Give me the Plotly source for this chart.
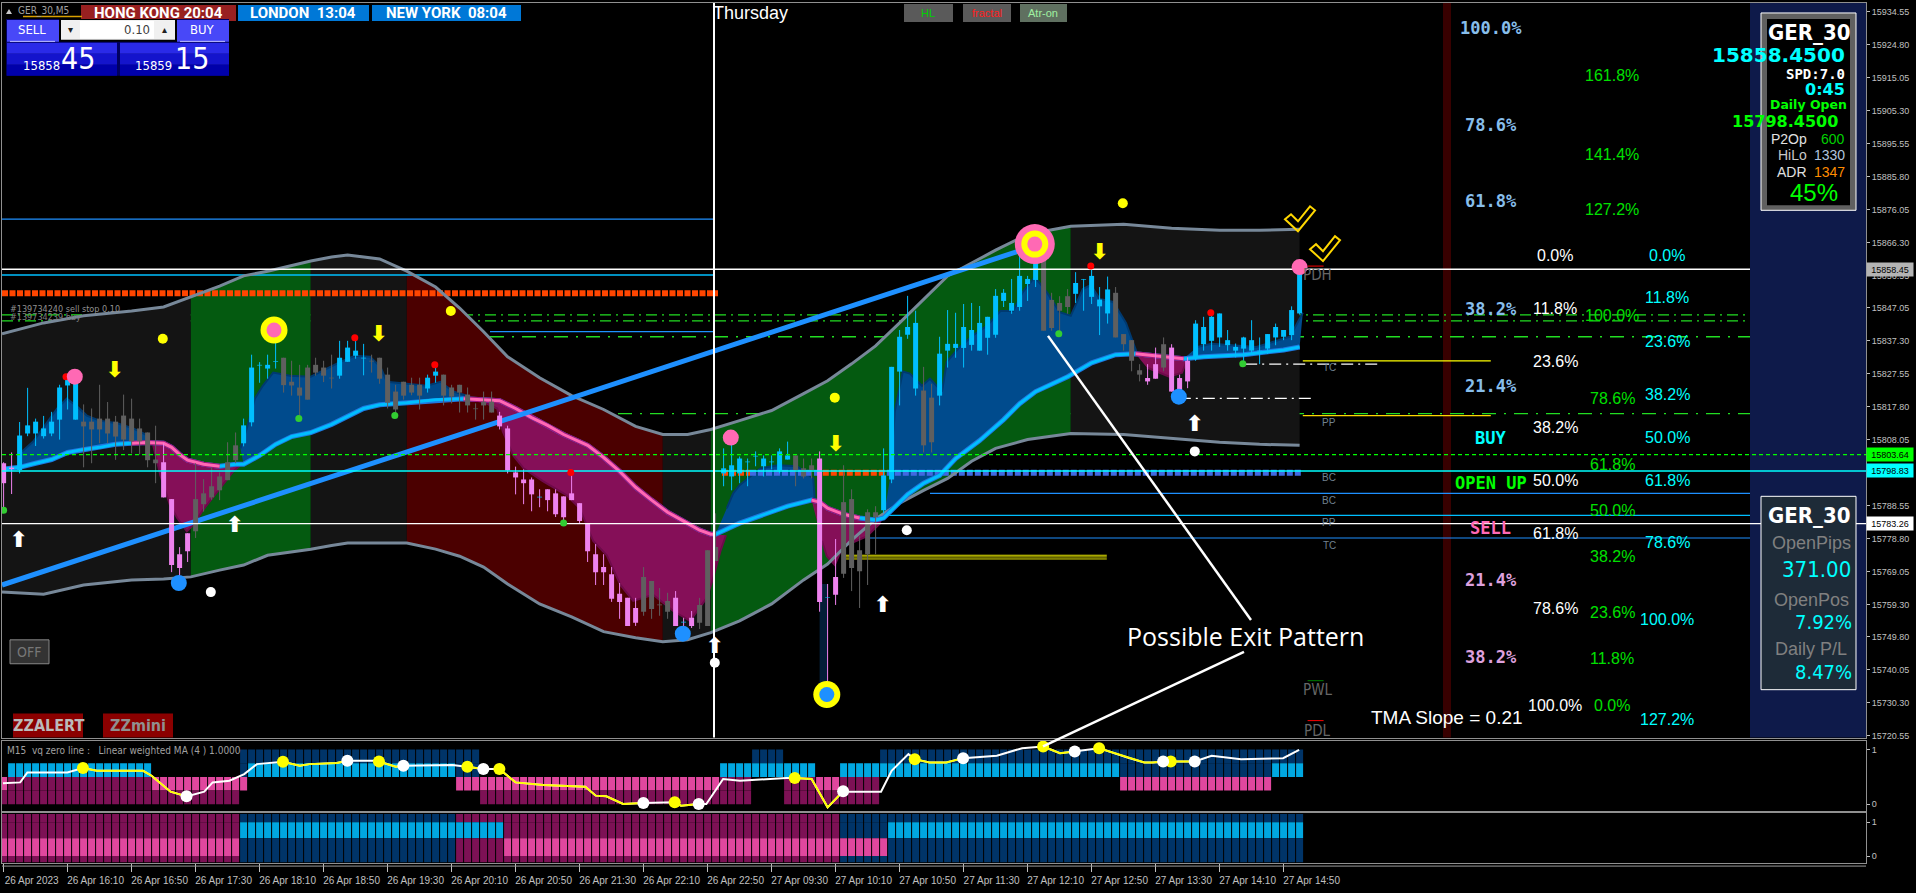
import plotly.graph_objects as go

W, H = 1916, 893

# ---------- DATA ----------
high = [15801.4,15804.3,15813.3,15823.4,15814.3,15815.1,15816.3,15824.3,15826.6,15826.3,
15818.5,15817.3,15824.3,15819.2,15815.1,15821.4,15820.2,15814.3,15810.2,15812.2,
15807.0,15790.5,15776.3,15780.4,15801.1,15796.4,15799.9,15798.4,15807.3,15810.2,
15814.3,15833.2,15831.0,15833.2,15840.4,15832.3,15831.4,15830.2,15830.2,15832.3,
15831.4,15833.2,15837.3,15837.3,15838.2,15836.4,15833.2,15832.3,15829.4,15824.3,
15825.2,15826.4,15826.4,15827.3,15830.2,15827.3,15824.3,15824.3,15823.5,15818.8,
15822.3,15822.3,15816.3,15812.2,15800.1,15799.3,15796.9,15793.4,15793.4,15793.4,
15791.3,15798.4,15789.3,15783.4,15777.2,15774.2,15770.4,15765.7,15761.3,15761.3,
15770.4,15766.3,15764.2,15762.8,15763.3,15755.4,15757.4,15761.3,15775.4,15786.3,
15805.5,15808.4,15803.1,15802.5,15804.6,15803.4,15803.4,15805.5,15807.5,15803.4,
15802.5,15802.5,15804.6,15765.4,15778.7,15800.5,15793.4,15779.5,15787.5,15788.4,
15805.5,15829.6,15840.5,15850.6,15846.2,15829.6,15824.6,15838.5,15846.4,15845.6,
15848.2,15848.5,15847.6,15844.4,15852.6,15852.6,15855.6,15862.7,15856.5,15865.6,
15864.4,15851.5,15850.5,15852.6,15857.6,15855.6,15859.4,15853.2,15856.3,15853.2,
15839.3,15837.5,15830.4,15830.4,15835.3,15838.3,15836.3,15827.3,15832.4,15843.4,
15844.4,15846.1,15845.4,15840.5,15836.5,15838.5,15843.4,15838.3,15839.3,15842.4,
15840.5,15847.5,15858.3]
body_top = [15801.1,15799.8,15809.3,15812.3,15813.4,15811.4,15813.4,15823.5,15826.3,15825.2,
15813.4,15813.4,15814.3,15814.3,15813.4,15815.2,15814.3,15811.4,15810.2,15802.2,
15801.4,15790.5,15774.2,15780.4,15790.5,15792.2,15794.3,15797.2,15801.4,15806.4,
15812.3,15829.4,15830.2,15830.2,15831.3,15832.3,15825.2,15823.5,15829.4,15830.2,
15829.4,15826.4,15832.3,15835.3,15834.4,15832.3,15831.4,15832.3,15827.3,15822.3,
15825.2,15824.3,15824.3,15826.4,15828.2,15827.3,15823.5,15824.3,15821.4,15817.3,
15819.3,15819.3,15815.2,15811.4,15798.4,15796.3,15796.3,15791.2,15793.4,15792.2,
15791.3,15792.2,15789.3,15783.1,15774.2,15770.4,15768.3,15762.5,15761.3,15758.3,
15767.5,15766.3,15759.3,15760.4,15761.3,15754.2,15755.4,15759.2,15775.4,15776.3,
15799.6,15800.5,15802.5,15801.6,15803.3,15802.5,15801.6,15804.6,15803.4,15803.4,
15799.6,15800.5,15802.5,15761.5,15767.5,15789.6,15790.5,15775.4,15786.6,15786.6,
15797.5,15829.6,15838.5,15841.4,15842.6,15822.6,15820.5,15833.5,15836.4,15836.4,
15841.4,15840.5,15842.6,15844.4,15850.6,15851.5,15848.5,15856.5,15855.6,15862.7,
15863.5,15849.4,15848.5,15850.5,15854.4,15855.5,15856.5,15849.5,15852.5,15851.5,
15839.3,15837.5,15828.6,15826.3,15830.4,15836.3,15835.3,15826.3,15831.4,15842.4,
15841.4,15844.4,15845.4,15837.5,15835.5,15838.3,15837.5,15834.4,15839.3,15841.4,
15840.5,15846.4,15858.3]
body_bot = [15795.2,15799.4,15799.1,15809.9,15809.9,15809.1,15809.9,15814.0,15824.1,15814.0,
15812.0,15811.1,15811.1,15809.9,15809.0,15808.1,15807.6,15807.6,15802.0,15801.1,
15791.0,15771.0,15770.1,15775.1,15781.0,15789.0,15791.0,15793.1,15796.1,15802.0,
15807.0,15813.2,15830.0,15829.1,15831.1,15824.2,15824.1,15821.1,15819.9,15827.9,
15827.0,15826.2,15827.0,15831.1,15832.9,15832.1,15831.2,15826.1,15819.0,15817.0,
15821.1,15822.0,15821.1,15823.2,15827.0,15821.1,15820.8,15822.0,15818.2,15817.1,
15818.2,15816.1,15812.0,15799.0,15796.9,15795.2,15791.9,15791.0,15790.2,15786.0,
15785.1,15790.2,15784.0,15775.1,15768.9,15768.9,15761.0,15760.1,15753.0,15753.9,
15757.2,15758.0,15759.1,15757.2,15753.0,15754.0,15753.0,15753.9,15753.0,15772.2,
15798.1,15797.2,15798.1,15801.4,15803.1,15800.2,15801.4,15799.0,15802.2,15799.0,
15797.2,15799.0,15760.1,15761.3,15762.2,15768.4,15770.1,15769.2,15774.2,15785.2,
15787.2,15796.3,15828.2,15839.1,15823.2,15806.4,15807.3,15821.1,15834.4,15835.2,
15835.2,15836.1,15834.4,15838.2,15839.1,15849.1,15846.2,15847.3,15854.1,15855.3,
15840.3,15841.1,15846.2,15847.3,15851.2,15855.3,15850.3,15847.5,15845.4,15838.3,
15836.3,15831.4,15827.3,15825.3,15826.1,15829.4,15822.3,15822.8,15825.3,15832.4,
15836.3,15837.3,15838.3,15836.0,15834.4,15835.0,15834.4,15834.2,15835.0,15838.3,
15838.5,15839.0,15845.4]
low = [15787.3,15792.0,15798.1,15809.1,15806.2,15808.4,15809.1,15808.1,15817.0,15814.0,
15799.9,15801.1,15807.0,15807.0,15802.1,15805.0,15804.0,15803.7,15799.9,15795.2,
15791.0,15768.9,15765.2,15771.9,15779.0,15786.8,15790.3,15790.2,15796.1,15801.1,
15806.1,15812.0,15824.9,15826.1,15829.1,15822.0,15821.1,15814.3,15819.9,15827.0,
15825.1,15823.2,15826.1,15831.1,15832.0,15827.1,15827.9,15824.6,15817.3,15815.3,
15819.9,15821.2,15817.0,15822.0,15824.9,15818.2,15818.8,15816.1,15816.1,15814.0,
15814.0,15816.1,15811.1,15798.1,15791.9,15789.0,15786.9,15788.1,15786.9,15785.2,
15783.7,15790.2,15783.4,15771.9,15765.1,15765.1,15760.1,15755.1,15753.0,15753.0,
15756.0,15755.1,15756.0,15755.1,15753.0,15750.1,15752.4,15752.1,15753.0,15772.2,
15794.3,15793.1,15795.2,15794.3,15800.2,15797.2,15799.3,15798.1,15802.2,15794.3,
15796.6,15796.6,15757.2,15732.8,15759.2,15767.2,15763.3,15758.3,15765.1,15774.2,
15786.3,15795.2,15818.2,15837.9,15821.1,15804.3,15804.3,15818.2,15829.4,15832.3,
15829.4,15834.4,15834.4,15833.2,15838.2,15847.3,15845.3,15846.2,15849.1,15853.2,
15840.3,15840.3,15839.4,15845.3,15848.5,15846.2,15848.2,15839.0,15842.4,15838.3,
15834.4,15828.3,15825.3,15824.3,15826.1,15828.3,15822.3,15820.2,15823.3,15831.4,
15834.4,15834.4,15835.5,15834.4,15832.4,15831.4,15833.4,15830.4,15833.4,15836.0,
15837.5,15837.5,15845.1]
candle_state = ("p"*2+"b"*8+"g"*10+"p"*4+"g"*6+"b"*5+"g"*7+"b"*4+"g"*7+"b"*2+"g"*7+"p"*5+"c"+"p"*12+"g"*4+"p"+"c"+"p"
                +"g"*3+"b"*9+"g"*3+"p"+"c"+"p"+"g"*5+"b"*5+"g"*2+"b"*13+"g"*4+"b"*5+"g"*4+"p"*2+"g"+"p"*3+"b"*14)

band_x = [-0.2,5,10,16,20,23.4,27,30,33,38.4,41,43,47,50.4,54,57,60,63,67,71,75,79,82.4,85.5,88.4,92,96,100,103,106,109,112,115,118,121,124,128,133.4,140,146,152,157,162]
band_upper = [15839.4,15842.6,15844.7,15846.1,15847.3,15850.3,15853.5,15856.5,15857.9,15860.9,15862.1,15862.7,15861.5,15857.9,15853.2,15847.0,15840.0,15832.6,15826.4,15821.1,15817.0,15812.0,15809.6,15809.6,15811.1,15813.7,15816.7,15821.7,15825.5,15830.5,15835.8,15842.6,15849.7,15856.5,15860.3,15864.1,15868.8,15871.2,15871.8,15870.6,15870.0,15870.0,15870.3]
band_lower = [15763.0,15762.4,15765.1,15766.6,15766.9,15767.5,15769.5,15771.0,15773.9,15775.7,15776.8,15777.5,15777.5,15777.5,15775.7,15773.6,15770.4,15765.4,15759.5,15755.7,15751.3,15749.5,15748.3,15748.9,15751.0,15754.5,15759.5,15766.6,15771.3,15778.4,15784.6,15789.3,15793.1,15796.6,15801.7,15805.5,15808.1,15809.9,15809.6,15808.4,15807.3,15806.7,15806.4]
band_breaks = [-0.2,23.4,38.4,50.4,82.4,88.4,133.4,162]
band_colors = ["#141414","#045A10","#141414","#4B0000","#141414","#045A10","#141414"]

ma_x = [-0.2,2,4,6,8,10,12,14,16,18,20,21,22,23,25,27,29,30,32,34,36,38.4,41,43,45,47,50.4,54,57.5,60,62,64,66,68,70,73,75,77,79,81,83,85,87,88.4,89,92,95,98,101,102,103,105,107,109,110,111,113,115,117,119,122,125,127,129,133,136,139,141.5,147.5,150,155,160,162]
ma_y = [15799.3,15799.9,15801.1,15802.2,15804.3,15805.2,15805.8,15806.7,15807.0,15807.2,15807.0,15805.8,15803.7,15802.0,15800.8,15800.2,15800.8,15800.8,15803.4,15806.7,15809.0,15810.2,15812.6,15814.9,15817.3,15818.4,15819.0,15819.9,15820.2,15819.9,15819.6,15817.3,15814.6,15812.3,15809.6,15806.4,15802.8,15798.7,15794.0,15790.2,15786.6,15784.0,15781.3,15780.1,15780.1,15783.4,15786.0,15788.4,15790.2,15789.6,15787.8,15786.0,15784.9,15784.3,15784.9,15787.2,15791.9,15795.2,15797.5,15802.5,15807.8,15814.0,15818.7,15822.3,15826.7,15830.8,15833.2,15833.5,15832.0,15832.6,15833.2,15834.6,15835.5]
ma_pink_spans = [(16,27),(57.5,89),(101,107),(141.5,147.5)]

zones = [
 ("#004B8D",2,18,[2.3,3.7,4.9,6.7,7.9,9.2,10.4,12,14.2,16.2,18],[15804.6,15807.5,15811.4,15817.3,15820.2,15817.9,15815.2,15813.7,15812.9,15811.4,15809.3]),
 ("#850F58",18,30,[18.7,19.6,20.8,21.7,22.9,23.7,24.9,26.7,28.7,29.6],[15806.4,15797.5,15788.7,15784.9,15781.0,15782.8,15787.2,15792.8,15798.7,15800.5]),
 ("#004B8D",30,57.5,[29.6,30.4,31.4,32.4,33.7,35.8,38.4,40.4,42.1,43.9,45.8,47.1,47.9,50.4,52.9,54.6,56.2,58.3],[15805.5,15811.4,15820.2,15824.0,15827.9,15827.0,15826.7,15829.1,15831.1,15832.9,15832.6,15829.6,15825.2,15824.6,15824.0,15825.2,15822.3,15820.8]),
 ("#850F58",57.5,89,[59.6,61.7,62.4,63.7,65,67.4,70.4,72,73.7,75.4,77.1,78.7,81.2,83.7,85.8,87.9,88.7,89.6,90.3],[15819.6,15817.3,15810.5,15803.4,15799.6,15795.8,15791.6,15787.8,15778.1,15773.9,15765.1,15760.4,15762.2,15757.4,15754.5,15761.3,15767.2,15775.1,15779.8]),
 ("#004B8D",89,101,[90.4,91.2,92,93.3,94.6,96.8,99.2,101.2,101.4],[15787.8,15792.2,15794.6,15797.2,15799.6,15800.5,15800.2,15796.6,15790.2]),
 ("#850F58",101,110,[102.3,102.9,103.9,104.8,105.4,107.9,109.6],[15778.1,15773.6,15771.0,15776.0,15776.9,15779.5,15783.4]),
 ("#004B8D",110,141.5,[110.8,111.4,112.4,113.3,114.8,115.8,117.3,117.9,119.3,121.1,122.9,124.6,126.2,127.4,128.9,130.4,132,133.4,134.9,135.9,137,138.7,140.3,141.3,141.6],[15796.6,15816.4,15828.2,15827.6,15824.0,15826.1,15822.3,15831.1,15834.9,15838.8,15841.7,15846.1,15846.1,15851.7,15856.2,15851.7,15845.8,15844.7,15852.6,15853.8,15849.7,15848.8,15842.6,15836.4,15834.1]),
 ("#850F58",141.5,147.5,[142.9,145.7,147.3,148],[15829.4,15826.7,15827.9,15832.0]),
 ("#004B8D",147.5,162,[149.2,151,156.6,160.8,162.4],[15835.5,15836.4,15835.5,15838.5,15845.6]),
]

sub1_x = [-0.08,2.08,2.97,7.97,9.92,11.66,17.44,18.5,20.87,22.87,25.08,26.13,28.23,30.08,31.66,33.5,34.92,37.02,38.23,41.66,42.97,46.39,46.92,49.02,49.97,56.13,57.97,59.97,61.97,64.0,67.44,72.71,74.02,75.34,77.44,79.97,83.89,84.68,86.89,87.84,89.94,92.05,97.84,98.89,101.0,103.0,104.94,105.73,109.68,111.0,113.1,113.89,115.73,117.84,119.94,124.15,127.31,129.94,132.05,133.89,136.94,140.47,142.58,143.63,144.94,145.89,148.89,151.0,154.68,159.94,161.94]
sub1_y = [.382,.400,.582,.582,.661,.612,.612,.521,.230,.145,.230,.400,.430,.552,.733,.764,.776,.703,.733,.752,.794,.794,.782,.685,.703,.715,.685,.642,.642,.400,.352,.321,.158,.145,.006,.024,.036,-.024,.006,.006,.461,.430,.479,.479,.461,-.055,.236,.230,.230,.612,.915,.824,.764,.764,.842,.885,1.024,1.055,.933,.964,1.024,.855,.764,.764,.782,.782,.782,.885,.824,.842,.994]
sub1_yellow_dots = [9.92,34.92,46.92,57.97,61.97,83.89,98.89,113.89,129.94,136.94,145.89]
sub1_white_dots = [22.87,42.97,49.97,59.97,79.97,86.89,104.94,119.94,133.89,144.94,148.89]

sub1_rows = [
 ("."*30+"d"*30+"."*34+"d"*4+"."*12+"d"*53, 0.75),
 ("."+"l"*18+"."*11+"d"+"l"*26+"d"*3+"."*30+"l"*12+"."*3+"l"*35+"d"*19+"l"*4, 0.5),
 ("k"+"m"*18+"k"*12+"."*26+"k"*33+"m"*4+"."*4+"m"*4+"k"*3+"m"*5+"."*30+"k"*19+"."*4, 0.25),
 ("m"*30+"."*30+"m"*34+"."*4+"m"*12+"."*53, 0.0),
]
sub2_rows = [
 ("m"*30+"d"*27+"m"*48+"d"*58, 1.0, 0.24),
 ("m"*30+"l"*33+"m"*42+"d"*6+"l"*52, 0.53, 0.47),
 ("k"*30+"d"*27+"m"*6+"k"*48+"d"*52, 0.0, 0.53),
 ("m"*30+"d"*27+"m"*48+"d"*58, -0.18, 0.18),
]
cell_colors = {"k":"#E0479E","m":"#7D1155","l":"#00A7E1","d":"#003468"}

pink_dots = ([8.9,90.9,162.0],[15826.7,15808.7,15859.1])
blue_dots = ([21.9,84.9,146.9],[15765.7,15750.7,15820.8])
yellow_dots = ([19.9,55.9,103.9,139.9],[15837.9,15846.1,15820.5,15878.0])
white_dots = ([25.9,88.9,112.9,148.9],[15763.0,15742.1,15781.3,15804.6])
green_dots = ([0,36.9,48.9,70,131.9,154.9],[15787.2,15814.3,15815.2,15783.4,15839.4,15830.5])
red_dots = ([7.8,43.9,53.9,70.9,135.9,150.9],[15826.7,15838.2,15830.2,15798.4,15859.4,15845.6])
down_arrows = ([13.9,46.9,104,137],[15828.2,15838.8,15806.4,15863.2])
up_arrows = ([1.9,28.9,88.9,109.9,148.9],[15778.1,15782.5,15746.5,15758.6,15812.3])

price_ticks = [15934.55,15924.80,15915.05,15905.30,15895.55,15885.80,15876.05,15866.30,15856.55,15847.05,15837.30,15827.55,15817.80,15808.05,15798.30,15788.55,15778.80,15769.05,15759.30,15749.80,15740.05,15730.30,15720.55]
time_labels = ["26 Apr 2023","26 Apr 16:10","26 Apr 16:50","26 Apr 17:30","26 Apr 18:10","26 Apr 18:50","26 Apr 19:30","26 Apr 20:10","26 Apr 20:50","26 Apr 21:30","26 Apr 22:10","26 Apr 22:50","27 Apr 09:30","27 Apr 10:10","27 Apr 10:50","27 Apr 11:30","27 Apr 12:10","27 Apr 12:50","27 Apr 13:30","27 Apr 14:10","27 Apr 14:50"]

# price, first bar, last bar
levels_under = [
 (15845.0,-0.2,218.3,"#22DD22",1.3,"11px,5px,2px,5px"),
 (15843.2,-0.2,218.3,"#22DD22",1.3,"11px,5px,2px,5px"),
 (15838.5,60.8,218.3,"#22DD22",1.3,"14px,8px,2px,8px"),
 (15815.8,76.8,218.3,"#22DD22",1.3,"14px,8px,2px,8px"),
 (15840.0,60.8,88.8,"#1E90FF",1.2,None),
]
levels_over = [
 (15873.3,-0.2,88.8,"#1E90FF",1.2,None),
 (15856.8,-0.2,88.8,"#00BFFF",1.5,None),
 (15851.4,-0.2,89.3,"#FF4500",6,"6px,1.5px"),
 (15792.2,115.8,218.3,"#1E90FF",1.2,None),
 (15785.7,110.4,218.3,"#00BFFF",1.2,None),
 (15779.0,108.1,218.3,"#1E90FF",1.2,None),
 (15773.9,105.1,137.9,"#E6E600",1,None),
 (15773.4,105.1,137.9,"#E6E600",1,None),
 (15772.8,105.1,137.9,"#E6E600",1,None),
 (15831.4,162.4,185.9,"#FFFF00",1.3,None),
 (15815.2,162.4,185.9,"#FFD700",1.3,None),
 (15830.4,155.2,171.9,"#FFFFFF",1.2,"12px,5px,2px,5px"),
 (15820.3,146.9,163.9,"#FFFFFF",1.2,"12px,5px,2px,5px"),
 (15859.4,163,165,"#FF0000",1,None),
 (15736.8,163,165,"#008000",1,None),
 (15725.0,163,165,"#FF0000",1,None),
]
levels_after_zones = [
 (15798.3,89.8,93.3,"#FF4500",6,"6px,2px"),
 (15798.3,93.3,102,"#4169E1",6,"6px,2px"),
 (15798.3,102.4,110.4,"#FF4500",6,"6px,2px"),
 (15798.3,110.4,162.4,"#4169E1",6,"6px,2px"),
]
levels_top = [
 (15858.45,-0.2,218.3,"#FFFFFF",1.4,None),
 (15803.64,-0.2,232.8,"#00FF00",1.2,"4px,3px"),
 (15798.83,-0.2,232.8,"#00FFFF",1.4,None),
 (15783.26,-0.2,232.8,"#FFFFFF",1.4,None),
]
trend_x = [-0.2,128]
trend_y = [15765.1,15864.7]

# ---------- HELPERS ----------
def fx(px): return px / W
def fy(py): return 1 - py / H
main = dict(xaxis="x", yaxis="y", hoverinfo="skip", showlegend=False)

fig = go.Figure()
add = fig.add_trace

def add_level(rows):
    for p, a, b, col, w, dash in rows:
        add(go.Scatter(x=[a,b], y=[p,p], mode="lines", line=dict(color=col, width=w, dash=dash or "solid"), **main))

def dots(data, color, size):
    add(go.Scatter(x=data[0], y=data[1], mode="markers", marker=dict(color=color, size=size, line=dict(width=0)), **main))

add_level(levels_under)

for k, col in enumerate(band_colors):
    a, b = band_breaks[k], band_breaks[k+1]
    idx = [j for j, v in enumerate(band_x) if a <= v <= b]
    xs = [band_x[j] for j in idx]
    add(go.Scatter(x=xs + xs[::-1], y=[band_upper[j] for j in idx] + [band_lower[j] for j in idx][::-1],
                   mode="lines", fill="toself", fillcolor=col, line=dict(width=0), **main))

add_level(levels_over)

for col, a, b, ox, oy in zones:
    idx = [j for j, v in enumerate(ma_x) if a <= v <= b]
    add(go.Scatter(x=ox + [ma_x[j] for j in idx][::-1], y=oy + [ma_y[j] for j in idx][::-1],
                   mode="lines", fill="toself", fillcolor=col, line=dict(width=0), **main))
    add(go.Scatter(x=ox, y=oy, mode="lines", line=dict(width=2, color="#003A70" if col == "#004B8D" else "#6E0A4A"), **main))

add_level(levels_after_zones)

add(go.Scatter(x=band_x, y=band_upper, mode="lines", line=dict(color="#778899", width=3), **main))
add(go.Scatter(x=band_x, y=band_lower, mode="lines", line=dict(color="#778899", width=3), **main))

add(go.Scatter(x=ma_x, y=ma_y, mode="lines", line=dict(color="#1E78E0", width=5), **main))
add(go.Scatter(x=ma_x, y=ma_y, mode="lines", line=dict(color="#00BFFF", width=3), **main))
for a, b in ma_pink_spans:
    idx = [j for j, v in enumerate(ma_x) if a <= v <= b]
    sx, sy = [ma_x[j] for j in idx], [ma_y[j] for j in idx]
    add(go.Scatter(x=sx, y=sy, mode="lines", line=dict(color="#A0147A", width=5), **main))
    add(go.Scatter(x=sx, y=sy, mode="lines", line=dict(color="#FF69B4", width=3), **main))

add(go.Scatter(x=trend_x, y=trend_y, mode="lines", line=dict(color="#1E90FF", width=5), **main))
add(go.Scatter(x=[102.5,102.5], y=[15765.4,15736.0], mode="lines", line=dict(color="#031E38", width=8), **main))

wick_colors = {"b":"#00BFFF","g":"#5F5F5F","p":"#EE82EE","c":"#EE82EE"}
body_colors = {"b":"#00BFFF","g":"#5F5F5F","p":"#EE82EE","c":"#00BFFF"}
for st in "gpbc":
    ids = [i for i, s in enumerate(candle_state) if s == st]
    wx, wy, bx, by = [], [], [], []
    for i in ids:
        wx += [i, i, None]; wy += [high[i], low[i], None]
        bx += [i, i, None]; by += [body_top[i], body_bot[i], None]
    add(go.Scatter(x=wx, y=wy, mode="lines", line=dict(color=wick_colors[st], width=1), **main))
    add(go.Scatter(x=bx, y=by, mode="lines", line=dict(color=body_colors[st], width=5), **main))

add_level(levels_top)

dots(red_dots, "#FF0000", 7)
dots(green_dots, "#32CD32", 7)
dots(yellow_dots, "#FFFF00", 10)
dots(white_dots, "#FFFFFF", 10)
dots(([33.8],[15840.5]), "#FFFF00", 27)
dots(([33.8],[15840.5]), "#FF69B4", 15)
dots(([128.9],[15865.9]), "#FF69B4", 40)
dots(([128.9],[15865.9]), "#FFFF00", 27)
dots(([128.9],[15865.9]), "#FF69B4", 15)
dots(([102.9],[15732.7]), "#FFFF00", 27)
dots(([102.9],[15732.7]), "#1E90FF", 15)
dots(pink_dots, "#FF69B4", 16)
dots(blue_dots, "#1E90FF", 16)
add(go.Scatter(x=down_arrows[0], y=down_arrows[1], mode="text", text=["<b>⬇</b>"]*len(down_arrows[0]),
               textfont=dict(color="#FFFF00", size=22, family="DejaVu Sans"), textposition="middle center", **main))
add(go.Scatter(x=up_arrows[0], y=up_arrows[1], mode="text", text=["<b>⬆</b>"]*len(up_arrows[0]),
               textfont=dict(color="#FFFFFF", size=22, family="DejaVu Sans"), textposition="middle center", **main))

def row_bars(rows, xa, ya):
    for row in rows:
        state, base = row[0], row[1]
        h = row[2] if len(row) > 2 else 0.25
        ids = [i for i, s in enumerate(state) if s != "."]
        add(go.Bar(x=ids, y=[h]*len(ids), base=[base]*len(ids), width=0.875,
                   marker=dict(color=[cell_colors[state[i]] for i in ids], line=dict(width=0)),
                   xaxis=xa, yaxis=ya, hoverinfo="skip", showlegend=False))
row_bars(sub1_rows, "x2", "y2")
row_bars(sub2_rows, "x3", "y3")

add(go.Scatter(x=sub1_x, y=sub1_y, mode="lines", line=dict(color="#FFFFFF", width=2), xaxis="x2", yaxis="y2", hoverinfo="skip", showlegend=False))
yel = sorted(sub1_yellow_dots); wht = sorted(sub1_white_dots)
for a in yel:
    nxt = [w for w in wht if w > a]
    b = nxt[0] if nxt else 162
    idx = [j for j, v in enumerate(sub1_x) if a <= v <= b]
    add(go.Scatter(x=[sub1_x[j] for j in idx], y=[sub1_y[j] for j in idx], mode="lines", line=dict(color="#FFFF00", width=2),
                   xaxis="x2", yaxis="y2", hoverinfo="skip", showlegend=False))
for vals, col in ((sub1_yellow_dots,"#FFFF00"),(sub1_white_dots,"#FFFFFF")):
    add(go.Scatter(x=vals, y=[sub1_y[sub1_x.index(v)] for v in vals], mode="markers", marker=dict(color=col, size=12),
                   xaxis="x2", yaxis="y2", hoverinfo="skip", showlegend=False))

# ---------- SHAPES ----------
shapes = []
def rect(x0, y0, x1, y1, fill, line=None, layer="above", lw=1):
    shapes.append(dict(type="rect", xref="paper", yref="paper", x0=fx(x0), x1=fx(x1), y0=fy(y1), y1=fy(y0),
                       fillcolor=fill, line=dict(color=line or fill, width=lw if line else 0), layer=layer))
def seg(x0, y0, x1, y1, col, w=1, layer="above"):
    shapes.append(dict(type="line", xref="paper", yref="paper", x0=fx(x0), x1=fx(x1), y0=fy(y0), y1=fy(y1),
                       line=dict(color=col, width=w), layer=layer))
def check(dx, dy):
    pts = [(1310,250),(1316,245),(1323,252),(1335,237),(1340,241),(1323,262)]
    p = "M " + " L ".join(f"{fx(x+dx):.5f},{fy(y+dy):.5f}" for x, y in pts) + " Z"
    shapes.append(dict(type="path", xref="paper", yref="paper", path=p, line=dict(color="#FFD700", width=2), layer="above"))

rect(1750, 3, 1866, 740, "#0E1A4A", layer="below")
rect(1443, 3, 1451, 740, "#380000", layer="below")
seg(714, 3, 714, 740, "#FFFFFF", 2)
seg(1048, 337, 1251, 622, "#FFFFFF", 2.5)
seg(1244, 654, 1043, 749, "#FFFFFF", 2.5)
check(0, 0); check(-25, -30)

rect(81, 5, 236, 21, "#982020")
rect(238, 5, 369, 21, "#0078D7")
rect(372, 5, 521, 21, "#0078D7")
seg(23, 16.5, 82, 16.5, "#D8A000", 1.5)
rect(6, 19, 229, 76, "#000060")
rect(7, 20, 59, 42, "#4848F8")
rect(177, 20, 229, 42, "#4848F8")
seg(10, 41.5, 55, 41.5, "#C0C0FF", 1)
seg(180, 41.5, 225, 41.5, "#C0C0FF", 1)
rect(59, 19, 177, 42, "#000000")
rect(61, 20, 175, 40, "#F0F0F0")
rect(80, 21, 154, 39, "#FFFFFF")
for x0, x1 in ((7,117),(120,229)):
    rect(x0, 43, x1, 54, "#2A2AE8")
    rect(x0, 54, x1, 65, "#1414CC")
    rect(x0, 65, x1, 76, "#0000AA")
rect(904, 4, 953, 22, "#5A5A5A")
rect(963, 4, 1011, 22, "#5A5A5A")
rect(1020, 4, 1067, 22, "#5F7060")
rect(10, 642, 49, 666, "#333333", "#888888")
rect(13, 716, 83, 740, "#8B0000")
rect(103, 716, 173, 740, "#8B0000")
rect(1761, 13, 1856, 211, "#606060", "#FFFFFF")
rect(1767, 19, 1850, 206, "#000000")
rect(1761, 498, 1856, 692, "#1E2B38", "#FFFFFF")
seg(2, 869, 1866, 869, "#999999", 1)
shapes.append(dict(type="path", xref="paper", yref="paper", fillcolor="#C8C8C8", line=dict(width=0), layer="above",
                   path=f"M {fx(6):.5f},{fy(14):.5f} L {fx(12):.5f},{fy(14):.5f} L {fx(9):.5f},{fy(9):.5f} Z"))

# ---------- TEXT ----------
anns = []
def T(x, y, text, size, color, family="Liberation Sans", anchor="center", bold=False):
    anns.append(dict(xref="paper", yref="paper", x=fx(x), y=fy(y), text=f"<b>{text}</b>" if bold else text, showarrow=False,
                     xanchor=anchor, yanchor="middle", font=dict(size=size, color=color, family=family), borderpad=0, borderwidth=0))

NARROW = "DejaVu Sans Condensed, Liberation Sans Narrow, Roboto, Liberation Sans"
MONO = "DejaVu Sans Mono"
T(18, 11, "GER_30,M5", 10, "#A0A0A0", NARROW, "left")
T(158, 13, "HONG KONG 20:04", 15, "#FFFFFF", "Roboto", bold=True)
T(303, 13, "LONDON&nbsp;&nbsp;13:04", 15, "#FFFFFF", "Roboto", bold=True)
T(446, 13, "NEW YORK&nbsp;&nbsp;08:04", 15, "#FFFFFF", "Roboto", bold=True)
T(32, 30, "SELL", 13, "#FFFFFF", NARROW)
T(202, 30, "BUY", 13, "#FFFFFF", NARROW)
T(150, 30, "0.10", 13, "#404040", NARROW, "right")
T(70, 30, "▾", 10, "#202020", "DejaVu Sans")
T(164, 30, "▴", 10, "#202020", "DejaVu Sans")
T(41, 66, "15858", 13, "#FFFFFF", NARROW)
T(78, 59, "45", 30, "#FFFFFF", NARROW)
T(153, 66, "15859", 13, "#FFFFFF", NARROW)
T(192, 59, "15", 30, "#FFFFFF", NARROW)
T(928, 13, "HL", 11, "#00D000")
T(987, 13, "fractal", 11, "#FF2020")
T(1043, 13, "Atr-on", 11, "#A0F0A0")
T(750, 13, "Thursday", 18, "#FFFFFF", "Liberation Sans")
T(29, 654, "OFF", 14, "#777777", NARROW)
T(48, 728, "ZZALERT", 16, "#BBBBBB", NARROW, bold=True)
T(138, 728, "ZZmini", 16, "#909090", NARROW, bold=True)
T(10, 310, "#139734240 sell stop 0.10", 9, "#909090", NARROW, "left")
T(10, 318, "#139734239 buy", 9, "#808080", NARROW, "left")
T(1245, 638, "Possible Exit Pattern", 25, "#FFFFFF", "Open Sans")
T(1447, 720, "TMA Slope = 0.21", 19, "#FFFFFF")
T(7, 753, "M15&nbsp;&nbsp;vq zero line :&nbsp;&nbsp;&nbsp;Linear weighted MA (4 ) 1.0000", 10, "#A0A0A0", NARROW, "left")

for t, y in (("PDH",276),("PWL",692),("PDL",733)):
    T(1317, y, t, 15, "#666666", NARROW)
for t, y in (("TC",369),("PP",424),("BC",479),("BC",502),("PP",524),("TC",547)):
    T(1329, y, t, 10, "#708090")

for t, y, c in (("100.0%",28,"#87BEEB"),("78.6%",125,"#87BEEB"),("61.8%",202,"#87BEEB"),("38.2%",310,"#87BEEB"),("21.4%",387,"#87BEEB"),
                ("BUY",439,"#00FFFF"),("OPEN UP",485,"#00FF00"),("SELL",530,"#FF69B4"),("21.4%",582,"#DDA0DD"),("38.2%",659,"#DDA0DD")):
    T(1490.6, y, t, 17, c, MONO, bold=True)
FIB = "Liberation Sans"
for t, y in (("0.0%",256),("11.8%",310),("23.6%",363),("38.2%",429),("50.0%",482),("61.8%",535),("78.6%",611),("100.0%",708)):
    T(1555, y, t, 16, "#FFFFFF", FIB)
for t, y in (("161.8%",76),("141.4%",155),("127.2%",210),("100.0%",317),("78.6%",400),("61.8%",466),("50.0%",512),("38.2%",558),("23.6%",615),("11.8%",661),("0.0%",708)):
    T(1612, y, t, 16, "#00E000", FIB)
for t, y in (("0.0%",256),("11.8%",299),("23.6%",343),("38.2%",396),("50.0%",439),("61.8%",482),("78.6%",544),("100.0%",622),("127.2%",722)):
    T(1667, y, t, 16, "#00FFFF", FIB)

T(1809, 33, "GER_30", 22, "#FFFFFF", NARROW, bold=True)
T(1845, 55, "15858.4500", 20, "#00FFFF", "DejaVu Sans", "right", True)
T(1845, 74, "SPD:7.0", 14, "#FFFFFF", MONO, "right", True)
T(1845, 90, "0:45", 16, "#00FFFF", "DejaVu Sans", "right", True)
T(1847, 105, "Daily Open", 12.5, "#00FF00", "DejaVu Sans", "right", True)
T(1837.5, 122, "15798.4500", 16, "#00FF00", "DejaVu Sans", "right", True)
T(1807, 139, "P2Op", 14, "#E0E0E0", "Liberation Sans", "right")
T(1845, 139, "600", 14, "#00D000", "Liberation Sans", "right")
T(1807, 156, "HiLo", 14, "#C8C8C8", "Liberation Sans", "right")
T(1845, 156, "1330", 14, "#B0C4DE", "Liberation Sans", "right")
T(1807, 173, "ADR", 14, "#E0E0E0", "Liberation Sans", "right")
T(1845, 173, "1347", 14, "#FF8C00", "Liberation Sans", "right")
T(1838, 193, "45%", 24, "#00FF00", "Liberation Sans", "right")
T(1809, 517, "GER_30", 22, "#FFFFFF", NARROW, bold=True)
T(1811, 545, "OpenPips", 18, "#808080")
T(1851, 571, "371.00", 22, "#00FFFF", NARROW, "right")
T(1811, 602, "OpenPos", 18, "#808080")
T(1852, 624, "7.92%", 20, "#00FFFF", NARROW, "right")
T(1811, 651, "Daily P/L", 18, "#808080")
T(1852, 674, "8.47%", 20, "#00FFFF", NARROW, "right")

for t, y, bg in (("15858.45",270,"#B4B4B4"),("15803.64",456,"#00FF00"),("15798.83",472,"#00FFFF"),("15783.26",525,"#FFFFFF")):
    anns.append(dict(xref="paper", yref="paper", x=fx(1890), y=fy(y), text=t, showarrow=False, xanchor="center", yanchor="middle",
                     width=46, height=13, bgcolor=bg, font=dict(size=9, color="#000000", family="Liberation Sans"), borderpad=0))

# ---------- LAYOUT ----------
xr = [-0.2, 232.8]
FRAME = "#909090"
common_x = dict(range=xr, showgrid=False, zeroline=False, showline=True, linecolor=FRAME, linewidth=1, mirror=True, fixedrange=True)
common_y = dict(showgrid=False, zeroline=False, showline=True, linecolor=FRAME, linewidth=1, mirror=True, side="right",
                color="#C0C0C0", tickfont=dict(size=9, color="#C0C0C0", family="Liberation Sans"), ticks="outside", ticklen=3,
                tickcolor="#C0C0C0", fixedrange=True)
xdom = [fx(2), fx(1866)]
fig.update_layout(
    width=W, height=H, autosize=False, margin=dict(l=0, r=0, t=0, b=0),
    paper_bgcolor="#000000", plot_bgcolor="#000000", showlegend=False, barmode="overlay", hovermode=False,
    xaxis=dict(domain=xdom, anchor="y", showticklabels=False, ticks="", **common_x),
    yaxis=dict(domain=[fy(740), fy(3)], anchor="x", range=[15720.0, 15937.2], tickmode="array", tickvals=price_ticks,
               ticktext=[f"{v:.2f}" for v in price_ticks], **common_y),
    xaxis2=dict(domain=xdom, anchor="y2", showticklabels=False, ticks="", **common_x),
    yaxis2=dict(domain=[fy(814), fy(743)], anchor="x2", range=[-0.127, 1.164], tickmode="array", tickvals=[0, 1], ticktext=["0", "1"], **common_y),
    xaxis3=dict(domain=xdom, anchor="y3", tickmode="array", tickvals=[8*k for k in range(len(time_labels))], ticktext=time_labels,
                ticks="outside", ticklen=8, tickcolor="#C0C0C0", ticklabelshift=28, tickangle=0,
                tickfont=dict(size=10, color="#C0C0C0", family="Liberation Sans"), **common_x),
    yaxis3=dict(domain=[fy(866), fy(816)], anchor="x3", range=[-0.206, 1.265], tickmode="array", tickvals=[0, 1], ticktext=["0", "1"], **common_y),
    shapes=shapes, annotations=anns,
)

fig.write_html("out.html", config={"displayModeBar": False},
               post_script="document.body.style.margin='0';document.body.style.background='#000';document.documentElement.style.overflow='hidden';")
